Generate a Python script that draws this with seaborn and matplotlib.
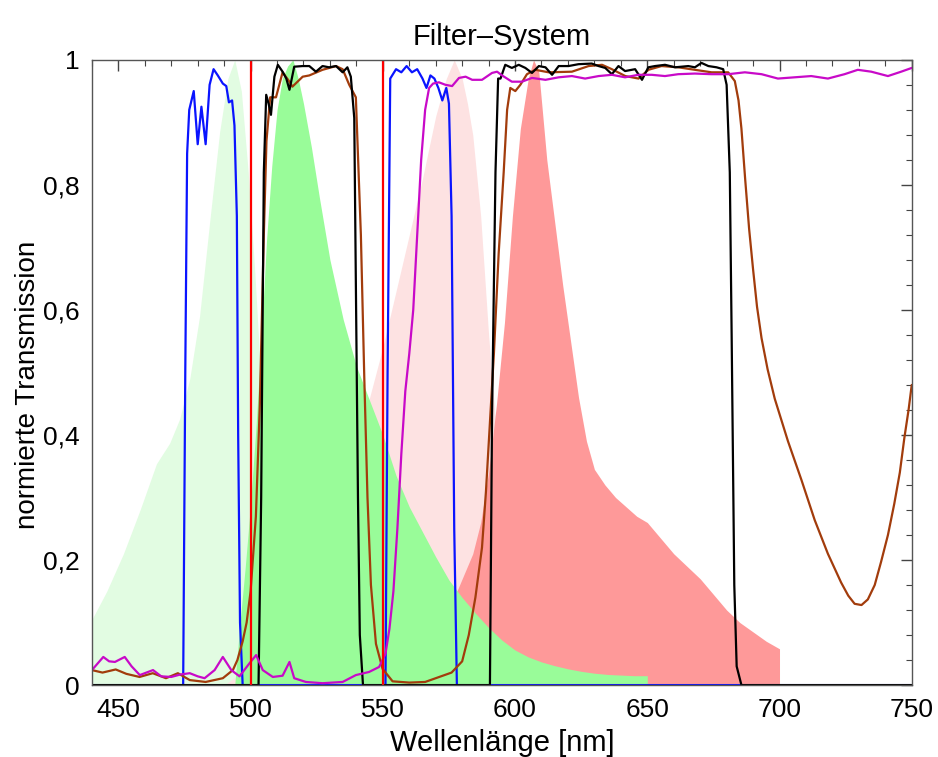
import numpy as np
import matplotlib
matplotlib.use('Agg')
import matplotlib.pyplot as plt
import seaborn as sns
from matplotlib.ticker import MultipleLocator

# Daten
# Anregung Farbstoff 1 (hellgruen)
exc1_x = [440, 445.6, 451.9, 458.2, 464.4, 469.4, 473.2, 477, 480.7, 484.5, 488.3, 491.4, 494,
          496.5, 499.1, 501.6, 504, 507, 510, 514, 518, 522]
exc1_y = [0.105, 0.15, 0.21, 0.28, 0.354, 0.387, 0.426, 0.49, 0.59, 0.74, 0.885, 0.97, 1.0,
          0.95, 0.82, 0.66, 0.48, 0.32, 0.2, 0.09, 0.03, 0.0]

# Emission Farbstoff 1 (gruen)
em1_x = [494, 496, 498, 500, 502, 504, 506, 508, 510, 512, 514, 516, 518, 520, 523, 526, 530,
         535, 540, 545, 550, 555, 560, 565, 570, 575, 580, 585, 590, 595, 600, 605, 610, 615,
         620, 625, 630, 635, 640, 645, 650]
em1_y = [0.0, 0.1, 0.19, 0.29, 0.41, 0.55, 0.71, 0.83, 0.92, 0.97, 0.99, 1.0, 0.97, 0.93,
         0.86, 0.78, 0.68, 0.585, 0.51, 0.455, 0.40, 0.335, 0.285, 0.245, 0.205, 0.168, 0.14,
         0.115, 0.092, 0.072, 0.056, 0.045, 0.037, 0.031, 0.026, 0.022, 0.019, 0.017, 0.016,
         0.015, 0.015]

# Anregung Farbstoff 2 (rosa)
exc2_x = [490, 500, 510, 520, 530, 540, 545, 550, 555, 560, 565, 570, 574, 577, 580, 582,
          584, 587, 590, 593, 596, 600, 605, 610, 615]
exc2_y = [0.0, 0.03, 0.07, 0.15, 0.26, 0.39, 0.46, 0.54, 0.63, 0.72, 0.81, 0.91, 0.97, 1.0,
          0.97, 0.93, 0.88, 0.75, 0.56, 0.40, 0.27, 0.15, 0.06, 0.02, 0.0]

# Emission Farbstoff 2 (lachs)
em2_x = [550, 560, 565, 570, 574, 578, 581, 584, 587, 590, 593, 596, 599, 602, 605, 607, 609,
         612, 615, 618, 621, 624, 627, 630, 634, 638, 642, 646, 650, 655, 660, 665, 670, 675,
         680, 685, 690, 695, 700]
em2_y = [0.0, 0.02, 0.05, 0.08, 0.11, 0.15, 0.18, 0.21, 0.26, 0.34, 0.45, 0.58, 0.75, 0.89,
         0.97, 1.0, 0.98, 0.84, 0.74, 0.64, 0.55, 0.46, 0.39, 0.345, 0.32, 0.30, 0.285, 0.27,
         0.26, 0.235, 0.21, 0.19, 0.17, 0.145, 0.12, 0.10, 0.085, 0.07, 0.058]

# Anregungsfilter (blau)
blue_x = [440, 474.5, 475.3, 476, 476.8, 478.5, 480, 481.4, 483, 484.5, 486, 487.6, 489.5,
          490.8, 491.8, 493, 493.9, 494.8, 495.3, 496, 497, 551, 551.8, 552.8, 555, 557, 559,
          561, 563, 565, 566.5, 568, 569.5, 571, 572.5, 574, 575, 576, 577, 578, 750]
blue_y = [0.0, 0.0, 0.5, 0.85, 0.92, 0.95, 0.865, 0.925, 0.865, 0.96, 0.985, 0.975, 0.962,
          0.958, 0.932, 0.935, 0.895, 0.75, 0.4, 0.1, 0.0, 0.0, 0.5, 0.97, 0.985, 0.98, 0.99,
          0.98, 0.985, 0.97, 0.955, 0.975, 0.97, 0.955, 0.935, 0.955, 0.93, 0.75, 0.25, 0.0, 0.0]

# Emissionsfilter (schwarz)
black_x = [440, 503, 504, 505, 505.9, 506.8, 507.7, 509, 510.3, 512.1, 513.5, 514.7, 516.5,
           519.7, 522.2, 524.7, 527.2, 529.7, 532.3, 534.8, 536.6, 537.9, 539.2, 539.9, 540.6,
           541.3, 542.5, 590.5, 591.3, 592.6, 593.6, 594.5, 596.3, 598.8, 601.4, 603.9, 606.4,
           609, 611.5, 614, 616.5, 620.2, 624, 629, 631.6, 634.1, 636.6, 639.1, 641.6, 645.4,
           648, 650.4, 652.9, 656.7, 660.5, 665.5, 668, 670.5, 673.1, 676.2, 678.7, 680, 681.2,
           681.9, 682.9, 683.8, 685.6, 750]
black_y = [0.0, 0.0, 0.3, 0.82, 0.944, 0.93, 0.912, 0.973, 0.992, 0.981, 0.97, 0.952, 0.989,
           0.99, 0.99, 0.981, 0.99, 0.988, 0.99, 0.98, 0.988, 0.973, 0.907, 0.6, 0.3, 0.08, 0.0,
           0.0, 0.43, 0.82, 0.97, 0.97, 0.992, 0.987, 0.992, 0.987, 0.979, 0.99, 0.988, 0.976,
           0.99, 0.99, 0.993, 0.994, 0.99, 0.987, 0.977, 0.99, 0.982, 0.985, 0.968, 0.988, 0.99,
           0.992, 0.988, 0.99, 0.988, 0.995, 0.99, 0.988, 0.985, 0.96, 0.82, 0.56, 0.16, 0.03,
           0.0, 0.0]

# Strahlteiler (braun)
brown_x = [440, 444, 449, 453, 458, 463, 468, 472.5, 477, 483, 489.5, 493.3, 495, 497, 498.5,
           500, 502, 503.5, 505, 506, 507.4, 509.6, 512.1, 514.7, 515.8, 519.7, 522.2, 527.2,
           532.3, 534.8, 537.3, 539.8, 541.7, 543, 544.2, 545.5, 547.4, 549.9, 553.7, 560, 566,
           570, 576, 580, 582.5, 585, 587.5, 589, 590.5, 592, 593.8, 595.7, 597, 598.2, 600.1,
           602, 604.5, 607.7, 612.7, 621.5, 627.8, 632.9, 636.6, 641.7, 646.7, 650.4, 655.4,
           661.7, 668, 674.3, 680.6, 683.1, 684.5, 685.6, 687, 688.5, 690, 691.5, 693.2, 695.5,
           698.2, 703.2, 708.3, 713.3, 718.3, 723.3, 726, 728.4, 731, 733.4, 736, 738.4, 741,
           743.4, 745.5, 747.2, 748.8, 750]
brown_y = [0.024, 0.02, 0.025, 0.018, 0.013, 0.019, 0.011, 0.019, 0.008, 0.005, 0.011, 0.024,
           0.04, 0.07, 0.1, 0.15, 0.27, 0.45, 0.72, 0.87, 0.94, 0.94, 0.98, 0.965, 0.957, 0.973,
           0.975, 0.984, 0.99, 0.985, 0.96, 0.94, 0.72, 0.49, 0.3, 0.16, 0.066, 0.026, 0.006,
           0.004, 0.005, 0.011, 0.02, 0.038, 0.08, 0.14, 0.22, 0.31, 0.42, 0.53, 0.69, 0.82,
           0.92, 0.955, 0.95, 0.96, 0.977, 0.984, 0.98, 0.981, 0.99, 0.992, 0.985, 0.974, 0.97,
           0.984, 0.99, 0.988, 0.984, 0.98, 0.98, 0.966, 0.935, 0.89, 0.81, 0.73, 0.665, 0.605,
           0.555, 0.505, 0.458, 0.39, 0.328, 0.264, 0.21, 0.164, 0.143, 0.13, 0.128, 0.137,
           0.16, 0.197, 0.24, 0.29, 0.34, 0.395, 0.44, 0.48]

# Langpass (magenta)
mag_x = [440, 444.3, 446.5, 448.7, 452.4, 455, 458.1, 463.1, 466.2, 470, 473.5, 477, 480,
         482.6, 486.4, 489.5, 492.7, 495.8, 499.6, 502.1, 504.6, 508.4, 512.1, 514.7, 516.5,
         520.9, 527.2, 534.8, 539.8, 544.8, 548.6, 551, 552.5, 554, 555.5, 557, 558.5, 560,
         561.5, 563, 564.5, 566, 567.5, 569, 571.2, 573.7, 576.2, 578.8, 581.3, 583.8, 587.5,
         591.3, 593.2, 595.1, 598.8, 602.6, 606.4, 611.5, 616.5, 621.5, 626.5, 631.6, 636.6,
         641.6, 646.6, 651.7, 656.7, 661.7, 668, 674.3, 680.6, 686.9, 693.2, 699.4, 705.7, 712,
         718.3, 724.6, 729.6, 734.7, 741, 746, 750]
mag_y = [0.024, 0.045, 0.038, 0.037, 0.045, 0.03, 0.016, 0.024, 0.014, 0.013, 0.017, 0.019,
         0.014, 0.011, 0.024, 0.045, 0.024, 0.014, 0.035, 0.048, 0.024, 0.013, 0.015, 0.037,
         0.011, 0.005, 0.003, 0.005, 0.016, 0.021, 0.029, 0.05, 0.09, 0.15, 0.25, 0.37, 0.47,
         0.53, 0.6, 0.72, 0.84, 0.92, 0.955, 0.962, 0.964, 0.96, 0.958, 0.971, 0.973, 0.968,
         0.968, 0.979, 0.981, 0.975, 0.965, 0.965, 0.971, 0.968, 0.972, 0.974, 0.97, 0.974,
         0.976, 0.972, 0.976, 0.976, 0.974, 0.977, 0.978, 0.977, 0.977, 0.98, 0.977, 0.97,
         0.972, 0.974, 0.97, 0.977, 0.984, 0.981, 0.974, 0.981, 0.987]

# Laserlinien
laser_lines = [500, 550]

x_ticks = [450, 500, 550, 600, 650, 700, 750]
y_ticks = [0, 0.2, 0.4, 0.6, 0.8, 1.0]
y_tick_labels = ['0', '0,2', '0,4', '0,6', '0,8', '1']

# Stil
sns.set_style('white')
plt.rcParams['font.family'] = ['Liberation Sans', 'DejaVu Sans']
plt.rcParams['text.color'] = 'black'
plt.rcParams['axes.labelcolor'] = 'black'
plt.rcParams['xtick.labelcolor'] = 'black'
plt.rcParams['ytick.labelcolor'] = 'black'

fig = plt.figure(figsize=(9.38, 7.57), dpi=100)
ax = fig.add_axes([0.098, 0.095, 0.874, 0.826])

# Spektren als Flaechen
ax.fill_between(exc1_x, exc1_y, color='#e2fce2', linewidth=0)
ax.fill_between(exc2_x, exc2_y, color='#fde2e2', linewidth=0)
ax.fill_between(em2_x, em2_y, color='#fe9999', linewidth=0)
ax.fill_between(em1_x, em1_y, color='#99fc99', linewidth=0)

# Filterkurven
lw = 1.6
sns.lineplot(x=blue_x, y=blue_y, color='#0a14ff', linewidth=lw, estimator=None, sort=False, ax=ax)
sns.lineplot(x=brown_x, y=brown_y, color='#a23c0c', linewidth=lw, estimator=None, sort=False, ax=ax)
sns.lineplot(x=black_x, y=black_y, color='black', linewidth=lw, estimator=None, sort=False, ax=ax)
sns.lineplot(x=mag_x, y=mag_y, color='#c80ac8', linewidth=lw, estimator=None, sort=False, ax=ax)
for xl in laser_lines:
    ax.axvline(xl, color='#ff0000', linewidth=1.6)

ax.set_xlim(440, 750)
ax.set_ylim(0, 1)
ax.set_xticks(x_ticks)
ax.set_yticks(y_ticks)
ax.set_yticklabels(y_tick_labels)
ax.xaxis.set_minor_locator(MultipleLocator(10))
ax.yaxis.set_minor_locator(MultipleLocator(0.04))
ax.tick_params(which='both', direction='in', top=True, right=True, color='#444444',
               labelcolor='black', labelsize=19, pad=9)
ax.tick_params(which='major', length=8, width=1)
ax.tick_params(which='minor', length=4, width=0.8)
for sp in ax.spines.values():
    sp.set_color('#555555')
    sp.set_linewidth(1)

ax.set_title('Filter–System', fontsize=21, pad=11, color='black')
ax.set_xlabel('Wellenlänge [nm]', fontsize=21, labelpad=5, color='black')
ax.set_ylabel('normierte Transmission', fontsize=20, color='black')
ax.yaxis.set_label_coords(-0.062, 0.48)

fig.savefig('out.png', dpi=100)
